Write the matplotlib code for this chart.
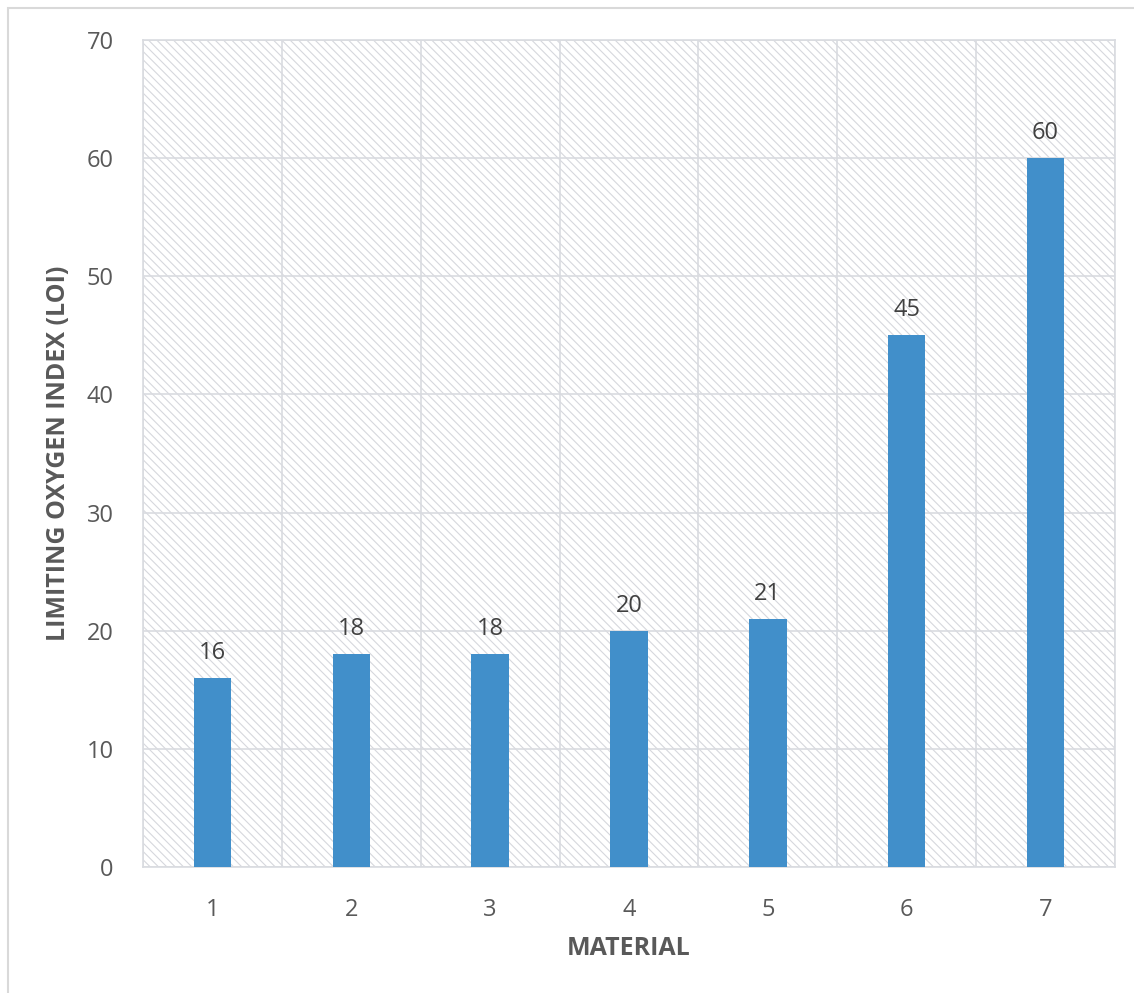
import matplotlib.pyplot as plt
from matplotlib.patches import Rectangle

# LOI per material
materials = ['1', '2', '3', '4', '5', '6', '7']
loi = [16, 18, 18, 20, 21, 45, 60]

plt.rcParams['font.family'] = ['Open Sans', 'DejaVu Sans']
plt.rcParams['hatch.color'] = '#d6d8dd'
plt.rcParams['hatch.linewidth'] = 0.8

W, H = 1134, 993
fig = plt.figure(figsize=(W / 100, H / 100), dpi=100)

# outer chart frame (runs off the right/bottom edge)
fig.patches.append(Rectangle((8 / W, -0.05), 1.2, 1 - 8 / H + 0.05,
                             transform=fig.transFigure, fill=False,
                             edgecolor='#d9d9d9', linewidth=1.5))

ax = fig.add_axes([143 / W, 1 - 867 / H, (1115 - 143) / W, (867 - 40) / H])
ax.set_facecolor('white')

# hatched plot area
ax.add_patch(Rectangle((0, 0), 1, 1, transform=ax.transAxes, facecolor='white',
                       hatch='\\\\\\\\', edgecolor='#d6d8dd', linewidth=0, zorder=0))

x = range(len(materials))
bars = ax.bar(x, loi, width=0.27, color='#418fca', zorder=3)
for xi, v in zip(x, loi):
    ax.text(xi, v + 1.1, str(v), ha='center', va='bottom', fontsize=17, color='#404040', zorder=4)

ax.set_xlim(-0.5, 6.5)
ax.set_ylim(0, 70)
ax.set_yticks(range(0, 71, 10))
ax.set_xticks(list(x))
ax.set_xticklabels(materials)
ax.set_xticks([i + 0.5 for i in range(-1, 7)], minor=True)

ax.grid(True, which='major', axis='y', color='#d9dbe0', linewidth=1.2, zorder=1)
ax.grid(True, which='minor', axis='x', color='#d9dbe0', linewidth=1.2, zorder=1)
ax.set_axisbelow(True)

for s in ax.spines.values():
    s.set_color('#d9dbe0')
    s.set_linewidth(1.2)

ax.tick_params(which='both', length=0, colors='#595959', labelsize=17)
ax.tick_params(axis='y', pad=21)
ax.tick_params(axis='x', pad=22)

ax.set_xlabel('MATERIAL', fontsize=18, fontweight='bold', color='#595959')
ax.set_ylabel('LIMITING OXYGEN INDEX (LOI)', fontsize=18, fontweight='bold', color='#595959')
ax.xaxis.set_label_coords(0.5, -0.099)
ax.xaxis.label.set_va('center')
ax.yaxis.set_label_coords(-0.087, 0.5)
ax.yaxis.label.set(rotation_mode='default', ha='center', va='center')

fig.savefig('out.png', dpi=100)
